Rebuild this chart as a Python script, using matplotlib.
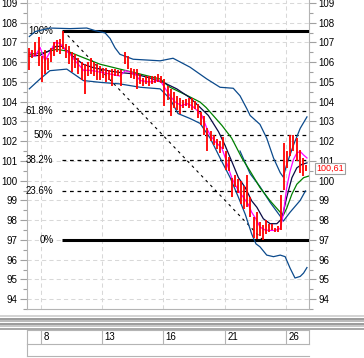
import numpy as np
import matplotlib.pyplot as plt
from matplotlib.lines import Line2D

plt.rcParams['font.family'] = ['Liberation Sans', 'DejaVu Sans']

# Barras (maximo y minimo de cada periodo)
highs = [106.7, 106.6, 107.0, 107.3, 106.3, 106.6, 106.2, 106.7, 107.0, 107.1,
         107.2, 107.6, 106.9, 106.8, 106.5, 106.4, 106.2, 106.0, 105.9, 106.0,
         106.2, 106.0, 105.9, 105.8, 105.7, 105.7, 105.6, 105.65, 105.65, 105.6,
         105.6, 106.5, 106.3, 105.7, 105.65, 105.65, 105.4, 105.2, 105.3, 105.3,
         105.3, 105.3, 105.4, 105.3, 105.15, 104.8, 104.65, 104.5, 104.3, 104.2,
         104.1, 104.15, 104.2, 104.2, 104.05, 103.9, 103.5, 103.3, 102.65, 102.5,
         102.3, 102.1, 102.0, 102.2, 101.5, 101.2, 100.15, 100.3, 100.1, 100.0,
         99.75, 100.3, 99.15, 98.15, 98.4, 97.9, 97.75, 98.0, 97.8, 97.8,
         97.6, 97.7, 99.25, 101.9, 101.5, 102.3, 102.3, 102.15, 101.55, 101.15,
         100.8]
lows = [105.6, 106.2, 106.3, 105.8, 105.0, 105.4, 105.6, 106.0, 106.3, 106.5,
        106.4, 106.65, 106.2, 105.9, 105.5, 105.7, 105.4, 105.1, 104.4, 105.3,
        105.4, 105.3, 105.1, 105.1, 105.2, 105.0, 105.1, 104.8, 105.3, 105.3,
        104.8, 105.9, 105.65, 105.2, 105.15, 104.65, 104.9, 104.8, 104.9, 104.8,
        104.9, 104.95, 105.0, 104.95, 103.8, 104.1, 103.3, 103.7, 103.6, 103.4,
        103.7, 103.8, 103.7, 103.6, 103.65, 103.15, 102.8, 102.3, 101.5, 102.0,
        101.8, 101.6, 101.4, 101.6, 100.55, 100.5, 99.15, 99.7, 99.4, 98.8,
        98.55, 98.65, 98.15, 97.1, 97.07, 97.2, 97.0, 97.3, 97.4, 97.5,
        97.4, 97.4, 97.5, 99.55, 100.65, 101.25, 101.5, 101.0, 100.4, 100.25,
        100.5]
last_price = 100.61

# Media rapida (magenta)
mag_x = [0, 1.9, 3.5, 5.1, 6.7, 8.4, 10.0, 11.6, 13.3, 14.9, 16.5, 17.8, 19.1, 21.4,
         23.0, 26.3, 29.5, 31.2, 32.8, 34.4, 36.1, 39.3, 42.6, 43.7, 45.8, 47.5, 49.6,
         51.3, 52.9, 54.5, 56.2, 57.8, 58.9, 60.5, 62.7, 63.7, 64.8, 65.9, 67.0, 68.1,
         69.7, 71.3, 72.4, 74.1, 75.1, 76.8, 78.4, 80.0, 81.7, 82.7, 83.8, 84.9, 86.0,
         87.1, 88.2, 89.3, 90.4]
mag_y = [106.5, 106.3, 106.75, 106.07, 106.5, 107.0, 106.95, 106.65, 106.4, 106.07,
         105.8, 105.57, 105.6, 105.55, 105.5, 105.4, 105.3, 105.57, 105.5, 105.4,
         105.07, 105.0, 105.07, 104.8, 104.3, 103.98, 103.8, 103.9, 103.8, 103.57,
         103.3, 102.65, 102.3, 101.98, 101.65, 101.2, 100.65, 100.15, 99.8, 99.5,
         99.15, 98.8, 98.4, 97.98, 97.65, 97.5, 97.48, 97.48, 97.57, 98.3,
         99.65, 100.48, 101.07, 101.4, 101.48, 101.3, 101.15]

# Media intermedia (azul oscuro)
navy_x = [0, 3.5, 6.7, 8.7, 10.7, 14.2, 17.5, 20.7, 26.3, 29.5, 34.4, 39.3, 43.6, 48.0,
          52.3, 55.0, 58.3, 61.6, 63.7, 65.9, 68.1, 70.3, 72.4, 74.1, 76.2, 78.4, 80.6,
          82.2, 83.8, 85.5, 87.1, 88.7, 90.4]
navy_y = [106.3, 106.35, 106.6, 106.8, 106.8, 106.3, 105.9, 105.73, 105.55, 105.48,
          105.4, 105.2, 104.98, 104.65, 104.2, 103.8, 103.3, 102.48, 101.8, 100.98,
          100.15, 99.65, 98.98, 98.65, 98.07, 97.82, 97.82, 98.07, 99.15, 100.15,
          100.65, 100.82, 100.9]

# Media lenta (verde)
green_x = [0, 4.6, 8.9, 12.2, 17.6, 23.0, 29.5, 36.1, 42.6, 45.8, 51.3, 55.6, 57.6,
           62.7, 65.9, 69.2, 71.9, 75.1, 78.4, 81.7, 82.7, 83.8, 85.5, 87.1, 89.3, 90.9]
green_y = [106.4, 106.48, 106.65, 106.57, 106.23, 105.9, 105.65, 105.4, 105.15, 104.73,
           104.32, 103.98, 103.7, 102.8, 102.15, 101.15, 100.48, 99.65, 98.98, 98.4,
           98.25, 98.6, 99.32, 99.82, 100.15, 100.23]

# Bandas de Bollinger
up_x = [0, 1.9, 6.7, 13.3, 18.7, 21.4, 24.7, 26.3, 27.9, 29.5, 33.8, 42.6, 46.8, 52.3,
        57.8, 62.1, 66.4, 68.6, 70.8, 71.9, 75.1, 77.3, 79.5, 81.7, 82.7, 83.8, 86.0,
        88.2, 90.4]
up_y = [107.3, 107.55, 107.73, 107.7, 107.73, 107.6, 107.48, 107.2, 106.73, 106.4,
        106.15, 106.07, 106.2, 105.75, 105.15, 104.73, 104.68, 104.3, 103.65, 103.3,
        102.85, 102.15, 101.15, 100.4, 100.18, 100.82, 101.8, 102.65, 103.23]
low_x = [0, 3.5, 6.7, 12.2, 17.6, 23.0, 29.5, 36.1, 42.6, 45.8, 48.4, 52.3, 55.6, 58.9,
         62.1, 65.4, 68.1, 70.3, 72.4, 73.8, 75.1, 77.3, 79.5, 81.7, 83.3, 84.9, 86.5,
         88.2, 89.3, 90.4]
low_y = [104.65, 105.15, 105.57, 105.65, 105.07, 104.98, 104.9, 104.73, 104.65, 104.15,
         103.4, 103.15, 102.9, 102.15, 101.15, 100.15, 99.15, 98.3, 97.3, 96.8,
         96.65, 96.23, 96.15, 96.23, 96.15, 95.57, 95.07, 95.15, 95.32, 95.6]
mid_x = [68.6, 71.9, 75.1, 78.4, 81.7, 82.7, 84.9, 88.2, 89.9]
mid_y = [101.5, 100.35, 99.7, 98.9, 98.2, 97.95, 98.4, 99.0, 99.48]

# Fibonacci
fib_hi, fib_lo = 107.6, 97.0
fib_hi_i, fib_lo_i = 11, 76
fib_ratios = [1.0, 0.618, 0.5, 0.382, 0.236, 0.0]
fib_labels = ['100%', '61.8%', '50%', '38.2%', '23.6%', '0%']

# Eje de fechas
date_pos = [3.7, 23.7, 43.5, 63.6, 83.5]
date_labels = ['8', '13', '16', '21', '26']

W, H = 364, 358
fig = plt.figure(figsize=(W / 100, H / 100), dpi=100)
ax = fig.add_axes([27 / W, 1 - 309 / H, 281.5 / W, 309 / H])

xi = np.arange(len(highs))
ax.set_xlim(-0.75, 90.9)
ax.set_ylim(93.7, 109.15)

# Rejilla
grid_c = '#d8d8d8'
ax.set_yticks(np.arange(94, 110, 1))
ax.set_yticks(np.arange(93.5, 109.5, 0.5), minor=True)
ax.set_xticks(date_pos)
ax.grid(True, which='major', color=grid_c, linestyle=(0, (4, 3)), linewidth=0.75)
ax.tick_params(axis='x', length=0, labelbottom=False)
ax.tick_params(axis='y', which='major', length=5, width=0.8, color='#a0a0a0',
               labelsize=7, left=True, right=True, labelleft=True, labelright=True, pad=2)
ax.tick_params(axis='y', which='minor', length=3, width=0.8, color='#a0a0a0',
               left=True, right=True)
for s in ['left', 'right', 'bottom']:
    ax.spines[s].set_color('#b4b4b4')
ax.spines['top'].set_visible(False)

# Lineas de Fibonacci
fib_vals = [fib_lo + r * (fib_hi - fib_lo) for r in fib_ratios]
for r, v, lab in zip(fib_ratios, fib_vals, fib_labels):
    if r in (0.0, 1.0):
        ax.plot([10.7, 90.9], [v, v], color='black', lw=2.2, solid_capstyle='butt', zorder=3)
    else:
        ax.plot([10.7, 90.0], [v, v], color='black', lw=0.9, linestyle=(0, (3, 3)), zorder=3)
    ax.text(7.8, v, lab, ha='right', va='center', fontsize=7, zorder=4)
ax.plot([fib_hi_i, fib_lo_i], [fib_hi, fib_lo], color='black', lw=0.8,
        linestyle=(0, (2.5, 3.5)), zorder=3)

# Bandas y medias
band_c = '#0b4a8c'
ax.plot(up_x, up_y, color=band_c, lw=0.9, zorder=4)
ax.plot(low_x, low_y, color=band_c, lw=0.9, zorder=4)
ax.plot(mid_x, mid_y, color=band_c, lw=0.9, zorder=4)
ax.plot(green_x, green_y, color='#008000', lw=0.9, zorder=5)
ax.plot(navy_x, navy_y, color='#0a0a45', lw=0.9, zorder=5)
ax.plot(mag_x, mag_y, color='#ff00ff', lw=0.9, zorder=6)

# Barras
ax.vlines(xi, lows, highs, color='#ff0000', lw=1.3, zorder=7)

# Etiqueta del ultimo precio
ax.text(1.0 + 8 / 281.5, last_price, f'{last_price:.2f}'.replace('.', ','),
        transform=ax.get_yaxis_transform(), ha='left', va='center', fontsize=6.5,
        color='#ff0000', zorder=10, clip_on=False,
        bbox=dict(boxstyle='square,pad=0.12', fc='white', ec='#a0a0a0', lw=0.8))

# Separador entre paneles
split_y = [316, 318.5, 321, 323.5, 326, 328.5]
split_c = ['#c8c8c8', '#808080', '#a8a8a8', '#808080', '#b8b8b8', '#909090']
for y, c in zip(split_y, split_c):
    fig.add_artist(Line2D([0, 1], [1 - y / H, 1 - y / H], color=c, lw=1.1,
                          transform=fig.transFigure))

# Panel de fechas
dax = fig.add_axes([27 / W, 1 - 344 / H, 281.5 / W, 14 / H], sharex=ax)
dax.set_ylim(0, 1)
dax.tick_params(left=False, bottom=False, labelleft=False, labelbottom=False)
for s in dax.spines.values():
    s.set_color('#b4b4b4')
for p, lab in zip(date_pos, date_labels):
    dax.axvline(p, color='#b4b4b4', lw=0.8)
    dax.text(p + 0.8, 0.5, lab, ha='left', va='center', fontsize=7)
fig.add_artist(Line2D([27 / W, 308.5 / W], [1 - 356 / H, 1 - 356 / H], color='#b4b4b4',
                      lw=0.8, transform=fig.transFigure))
fig.add_artist(Line2D([27 / W, 27 / W], [1 - 344 / H, 1 - 356 / H], color='#b4b4b4',
                      lw=0.8, transform=fig.transFigure))

fig.savefig('out.png', dpi=100)
